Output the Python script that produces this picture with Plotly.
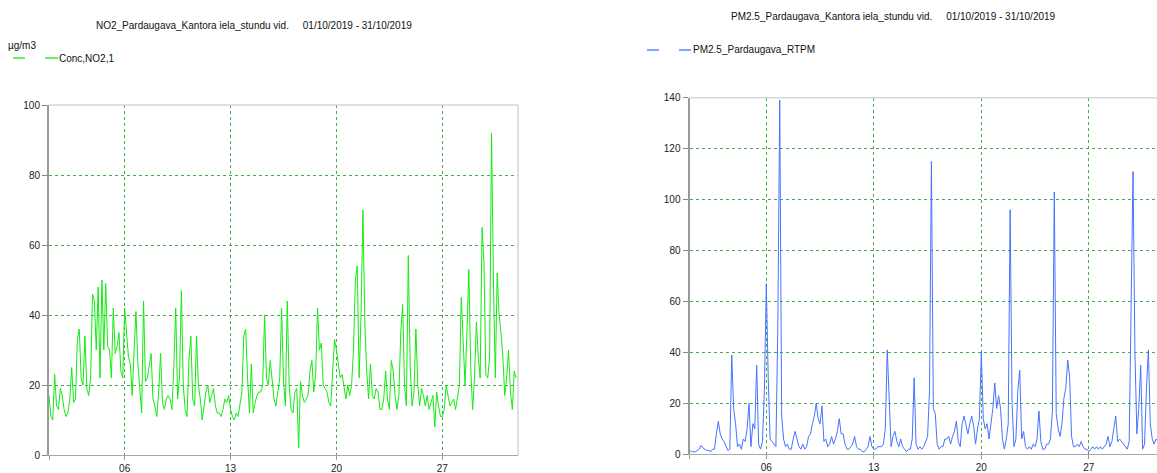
import pandas as pd
import plotly.graph_objects as go

# ---------------- data (3-hourly readings, 01/10/2019 .. 31/10/2019) ----------------
start_date = "2019-10-01 00:00"
step = "3h"

no2_values = [
    17, 11, 10, 23, 14, 13, 19, 17,
    13, 11, 12, 16, 25, 15, 16, 33,
    36, 22, 20, 34, 19, 17, 22, 46,
    44, 30, 48, 22, 50, 30, 49, 31,
    30, 22, 42, 29, 31, 35, 24, 22,
    42, 36, 28, 26, 17, 30, 41, 26,
    18, 12, 44, 21, 22, 25, 29, 16,
    14, 11, 18, 29, 15, 13, 16, 17,
    16, 13, 25, 42, 16, 22, 47, 20,
    13, 11, 27, 34, 16, 14, 34, 20,
    16, 10, 14, 18, 20, 15, 17, 19,
    14, 12, 12, 11, 13, 16, 15, 17,
    13, 11, 10, 12, 11, 14, 18, 34,
    36, 22, 12, 26, 12, 15, 17, 18,
    18, 20, 40, 22, 20, 27, 22, 16,
    14, 18, 22, 42, 21, 14, 44, 20,
    13, 12, 18, 19, 2, 21, 17, 15,
    16, 17, 24, 27, 18, 23, 42, 30,
    32, 20, 19, 18, 15, 14, 24, 33,
    30, 26, 22, 23, 19, 16, 20, 17,
    20, 30, 50, 54, 22, 40, 70, 38,
    24, 16, 26, 17, 16, 19, 18, 13,
    13, 16, 24, 16, 13, 27, 24, 17,
    13, 17, 35, 43, 20, 14, 57, 25,
    14, 18, 36, 20, 14, 19, 17, 14,
    17, 13, 15, 17, 8, 18, 14, 11,
    11, 13, 20, 17, 14, 15, 16, 13,
    17, 20, 45, 30, 20, 35, 53, 25,
    13, 22, 38, 28, 22, 65, 55, 23,
    22, 28, 92, 50, 22, 52, 40, 35,
    28, 17, 22, 30, 18, 13, 24, 22,
]

pm25_values = [
    1.5, 1, 1, 1, 1.5, 2, 3.5, 2.5,
    2, 1.5, 1.5, 1, 2, 2, 8, 13,
    8, 6, 5, 3, 1.5, 2, 39, 18,
    12, 3, 4, 2, 6, 5, 10, 20,
    3, 12, 10, 35, 4, 2, 5, 25,
    67, 30, 6, 5, 4, 3, 50, 139,
    15, 6, 3, 4, 2, 2, 6, 9,
    6, 3, 2, 4, 2, 3, 7, 8,
    12, 15, 20, 14, 12, 19, 5, 6,
    3, 4, 7, 4, 6, 9, 14, 8,
    8, 4, 2, 2, 3, 4, 7, 3,
    2, 2, 1, 1, 2, 3, 7, 3,
    2, 2, 3, 3, 3, 4, 10, 41,
    25, 3, 7, 9, 5, 3, 6, 3,
    2, 1, 2, 2, 6, 30, 4, 2,
    3, 2, 3, 5, 7, 25, 115, 18,
    16, 4, 2, 3, 3, 6, 6, 7,
    4, 7, 9, 13, 5, 3, 12, 15,
    11, 8, 12, 15, 11, 4, 10, 14,
    40, 14, 10, 12, 6, 12, 18, 28,
    18, 23, 18, 6, 2, 6, 12, 96,
    20, 3, 6, 25, 33, 6, 9, 3,
    2, 3, 2, 4, 3, 6, 17, 5,
    2, 2, 4, 4, 6, 17, 103, 16,
    10, 7, 12, 22, 26, 37, 30, 7,
    3, 3, 4, 3, 5, 3, 2, 2,
    1, 2, 3, 2, 3, 2, 3, 2,
    3, 4, 7, 3, 5, 10, 15, 5,
    6, 5, 4, 3, 2, 5, 54, 111,
    40, 8, 18, 35, 2, 4, 26, 41,
    12, 6, 4, 6, 5, 4, 3, 3,
]

tick_dates = ["2019-10-06", "2019-10-13", "2019-10-20", "2019-10-27"]
tick_labels = ["06", "13", "20", "27"]
no2_yticks = [0, 20, 40, 60, 80, 100]
pm_yticks = [0, 20, 40, 60, 80, 100, 120, 140]

left_title = "NO2_Pardaugava_Kantora iela_stundu vid.\u00a0\u00a0\u00a0\u00a0\u00a001/10/2019 - 31/10/2019"
right_title = "PM2.5_Pardaugava_Kantora iela_stundu vid.\u00a0\u00a0\u00a0\u00a0\u00a001/10/2019 - 31/10/2019"
unit_label = "µg/m3"
no2_name = "Conc,NO2,1"
pm_name = "PM2.5_Pardaugava_RTPM"

# ---------------- layout helpers ----------------
W, H = 1157, 473
def px(x):
    return x / W
def py(y):
    return 1 - y / H

no2_time = pd.date_range(start_date, periods=len(no2_values), freq=step)
pm_time = pd.date_range(start_date, periods=len(pm25_values), freq=step)

FONT = "Liberation Sans, Arial, sans-serif"
GRID = "rgb(70,170,70)"
NO2_COLOR = "rgb(20,235,20)"
PM_COLOR = "rgb(70,115,255)"

fig = go.Figure()
fig.add_trace(go.Scatter(x=no2_time, y=no2_values, mode="lines", name=no2_name,
                         line=dict(color=NO2_COLOR, width=1), xaxis="x", yaxis="y",
                         showlegend=False))
fig.add_trace(go.Scatter(x=pm_time, y=pm25_values, mode="lines", name=pm_name,
                         line=dict(color=PM_COLOR, width=1), xaxis="x2", yaxis="y2",
                         showlegend=False))

tickfont = dict(family=FONT, size=10, color="#222")

xtickvals = ["2019-10-01"] + tick_dates
xticktext = [""] + tick_labels

common_x = dict(showgrid=True, gridcolor=GRID, griddash="dot", gridwidth=1,
                tickvals=xtickvals, ticktext=xticktext, ticks="outside", ticklen=4,
                tickcolor="#999", showline=True, linecolor="#a8a8a8", linewidth=1,
                zeroline=False, tickfont=tickfont, fixedrange=True, automargin=False)
common_y = dict(showgrid=True, gridcolor=GRID, griddash="dot", gridwidth=1,
                ticks="outside", ticklen=5, tickcolor="#888", showline=True,
                linecolor="#9a9a9a", linewidth=2, zeroline=False, tickfont=tickfont,
                fixedrange=True, automargin=False)

left_x0, left_x1 = 49, 518
left_y0, left_y1 = 455, 105
right_x0, right_x1 = 689.5, 1157
right_y0, right_y1 = 454.3, 97.7
right_end = pd.Timestamp(start_date) + pd.Timedelta(days=(right_x1 - right_x0) / 15.36)

fig.update_layout(
    template="none",
    width=W, height=H, autosize=False,
    margin=dict(l=0, r=0, t=0, b=0, pad=0, autoexpand=False),
    paper_bgcolor="white", plot_bgcolor="white",
    showlegend=False,
    xaxis=dict(domain=[px(left_x0), px(left_x1)], anchor="y",
               range=["2019-10-01 00:00", "2019-11-01 00:00"], **common_x),
    yaxis=dict(domain=[py(left_y0), py(left_y1)], anchor="x", range=[0, 100],
               tickvals=no2_yticks, **common_y),
    xaxis2=dict(domain=[px(right_x0), px(right_x1)], anchor="y2",
                range=[pd.Timestamp(start_date), right_end], **common_x),
    yaxis2=dict(domain=[py(right_y0), py(right_y1)], anchor="x2", range=[0, 140],
                tickvals=pm_yticks, **common_y),
)

# light frame on top / right
shapes = [
    dict(type="line", xref="x domain", yref="y domain", x0=0, x1=1, y0=1, y1=1,
         line=dict(color="#d6d6d6", width=1.5)),
    dict(type="line", xref="x domain", yref="y domain", x0=1, x1=1, y0=0, y1=1,
         line=dict(color="#d6d6d6", width=1.5)),
    dict(type="line", xref="x2 domain", yref="y2 domain", x0=0, x1=1, y0=1, y1=1,
         line=dict(color="#d6d6d6", width=1.5)),
]
# legend line symbols
for (a, b, y, c) in [(13, 25, 58, NO2_COLOR), (45, 58, 58, NO2_COLOR),
                     (647, 659, 50, PM_COLOR), (679, 691, 50, PM_COLOR)]:
    shapes.append(dict(type="line", xref="paper", yref="paper", x0=px(a), x1=px(b),
                       y0=py(y), y1=py(y), line=dict(color=c, width=1.3)))
fig.update_layout(shapes=shapes)

txt = dict(family=FONT, size=10, color="#111")
annotations = [
    dict(text=left_title, x=px(254), y=py(26), xanchor="center", yanchor="middle"),
    dict(text=right_title, x=px(893), y=py(17), xanchor="center", yanchor="middle"),
    dict(text=unit_label, x=px(7), y=py(46), xanchor="left", yanchor="middle"),
    dict(text=no2_name, x=px(58), y=py(58), xanchor="left", yanchor="middle"),
    dict(text=pm_name, x=px(692), y=py(50), xanchor="left", yanchor="middle"),
]
for a in annotations:
    a.update(xref="paper", yref="paper", showarrow=False, font=txt, borderpad=0)
fig.update_layout(annotations=annotations)

fig.write_html("out.html", config={"displayModeBar": False, "staticPlot": True},
               post_script="document.body.style.margin='0';")
